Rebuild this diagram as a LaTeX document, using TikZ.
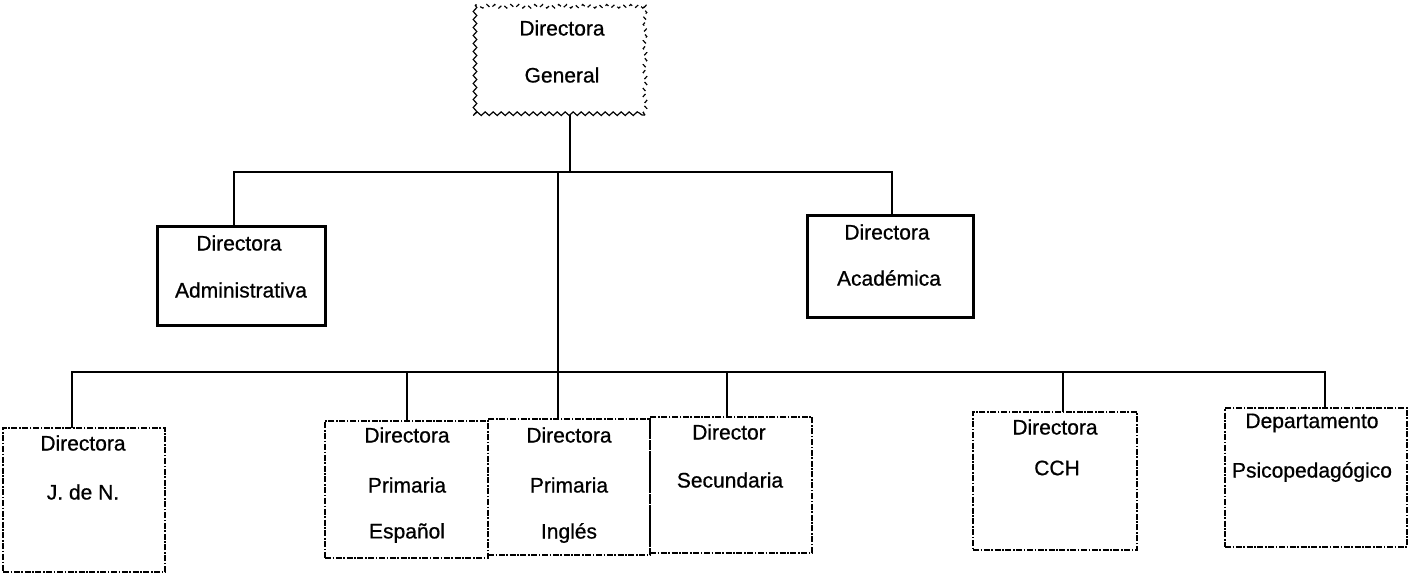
\documentclass[tikz,border=0pt]{standalone}
\usepackage{fontspec}
\setmainfont{Liberation Sans}
\newfontfamily\heavyfont{Liberation Sans}[FakeBold=0.7]
\usetikzlibrary{decorations.pathmorphing}
\begin{document}
\begin{tikzpicture}[x=0.5pt,y=-0.5pt,
  every node/.style={inner sep=0pt,outer sep=0pt},
  txt/.style={font=\heavyfont\fontsize{10.5}{12}\selectfont},
  solidbox/.style={draw,line width=1.5pt},
  dotbox/.style={draw,line width=0.7pt,dash pattern=on 3pt off 0.8pt on 0.8pt off 0.8pt},
  conn/.style={line width=1.1pt},
  wavy/.style={decorate,decoration={snake,amplitude=0.9pt,segment length=4pt},line width=0.6pt}]
\useasboundingbox (0,0) rectangle (1409,576);
% boxes
\node[minimum width=85pt,minimum height=55pt] (gen) at (560,60) {};
\node[solidbox,minimum width=84pt,minimum height=49.5pt] (adm) at (241,276.5) {};
\node[solidbox,minimum width=83pt,minimum height=51pt] (aca) at (890,267) {};
\node[dotbox,minimum width=81pt,minimum height=72pt] (jn) at (84,500) {};
\node[dotbox,minimum width=81.5pt,minimum height=68.5pt] (esp) at (406.5,489.5) {};
\node[dotbox,minimum width=81pt,minimum height=68pt] (ing) at (569,487) {};
\node[dotbox,minimum width=81pt,minimum height=68pt] (sec) at (731,485) {};
\node[dotbox,minimum width=82pt,minimum height=69pt] (cch) at (1055,481) {};
\node[dotbox,minimum width=91pt,minimum height=69.5pt] (dep) at (1316,477.5) {};
% wavy border of top box
\draw[wavy] (gen.north west) -- (gen.south west) -- (gen.south east);
\draw[wavy,dash pattern=on 2pt off 2pt] (gen.south east) -- (gen.north east) -- (gen.north west);
% texts
\node[txt] (gen1) at (562,28) {Directora};
\node[txt] (gen2) at (562,75) {General};
\node[txt] (adm1) at (239,243) {Directora};
\node[txt] (adm2) at (241,290) {Administrativa};
\node[txt] (aca1) at (887,232) {Directora};
\node[txt] (aca2) at (889,278) {Académica};
\node[txt] (jn1) at (83,443) {Directora};
\node[txt] (jn2) at (83,492) {J. de N.};
\node[txt] (esp1) at (407,435) {Directora};
\node[txt] (esp2) at (407,485) {Primaria};
\node[txt] (esp3) at (407,533) {Español};
\node[txt] (ing1) at (569,435) {Directora};
\node[txt] (ing2) at (569,485) {Primaria};
\node[txt] (ing3) at (569,533) {Inglés};
\node[txt] (sec1) at (729,432) {Director};
\node[txt] (sec2) at (730,480) {Secundaria};
\node[txt] (cch1) at (1055,427) {Directora};
\node[txt] (cch2) at (1057,468) {CCH};
\node[txt] (dep1) at (1312,423) {Departamento};
\node[txt] (dep2) at (1312,472) {Psicopedagógico};
% connectors
\coordinate (b1g) at (570,172);
\coordinate (b1L) at (234,172);
\coordinate (b1R) at (892,172);
\coordinate (b1m) at (558,172);
\coordinate (b2L) at (72,372);
\coordinate (b2R) at (1325,372);
\coordinate (b2e) at (407,372);
\coordinate (b2s) at (727,372);
\coordinate (b2c) at (1063,372);
\draw[conn] (b1g |- gen.south) -- (b1g);
\draw[conn] (b1L |- adm.north) -- (b1L) -- (b1R) -- (b1R |- aca.north);
\draw[conn] (b1m) -- (b1m |- ing.north);
\draw[conn] (b2L |- jn.north) -- (b2L) -- (b2R) -- (b2R |- dep.north);
\draw[conn] (b2e) -- (b2e |- esp.north);
\draw[conn] (b2s) -- (b2s |- sec.north);
\draw[conn] (b2c) -- (b2c |- cch.north);
\end{tikzpicture}
\end{document}
